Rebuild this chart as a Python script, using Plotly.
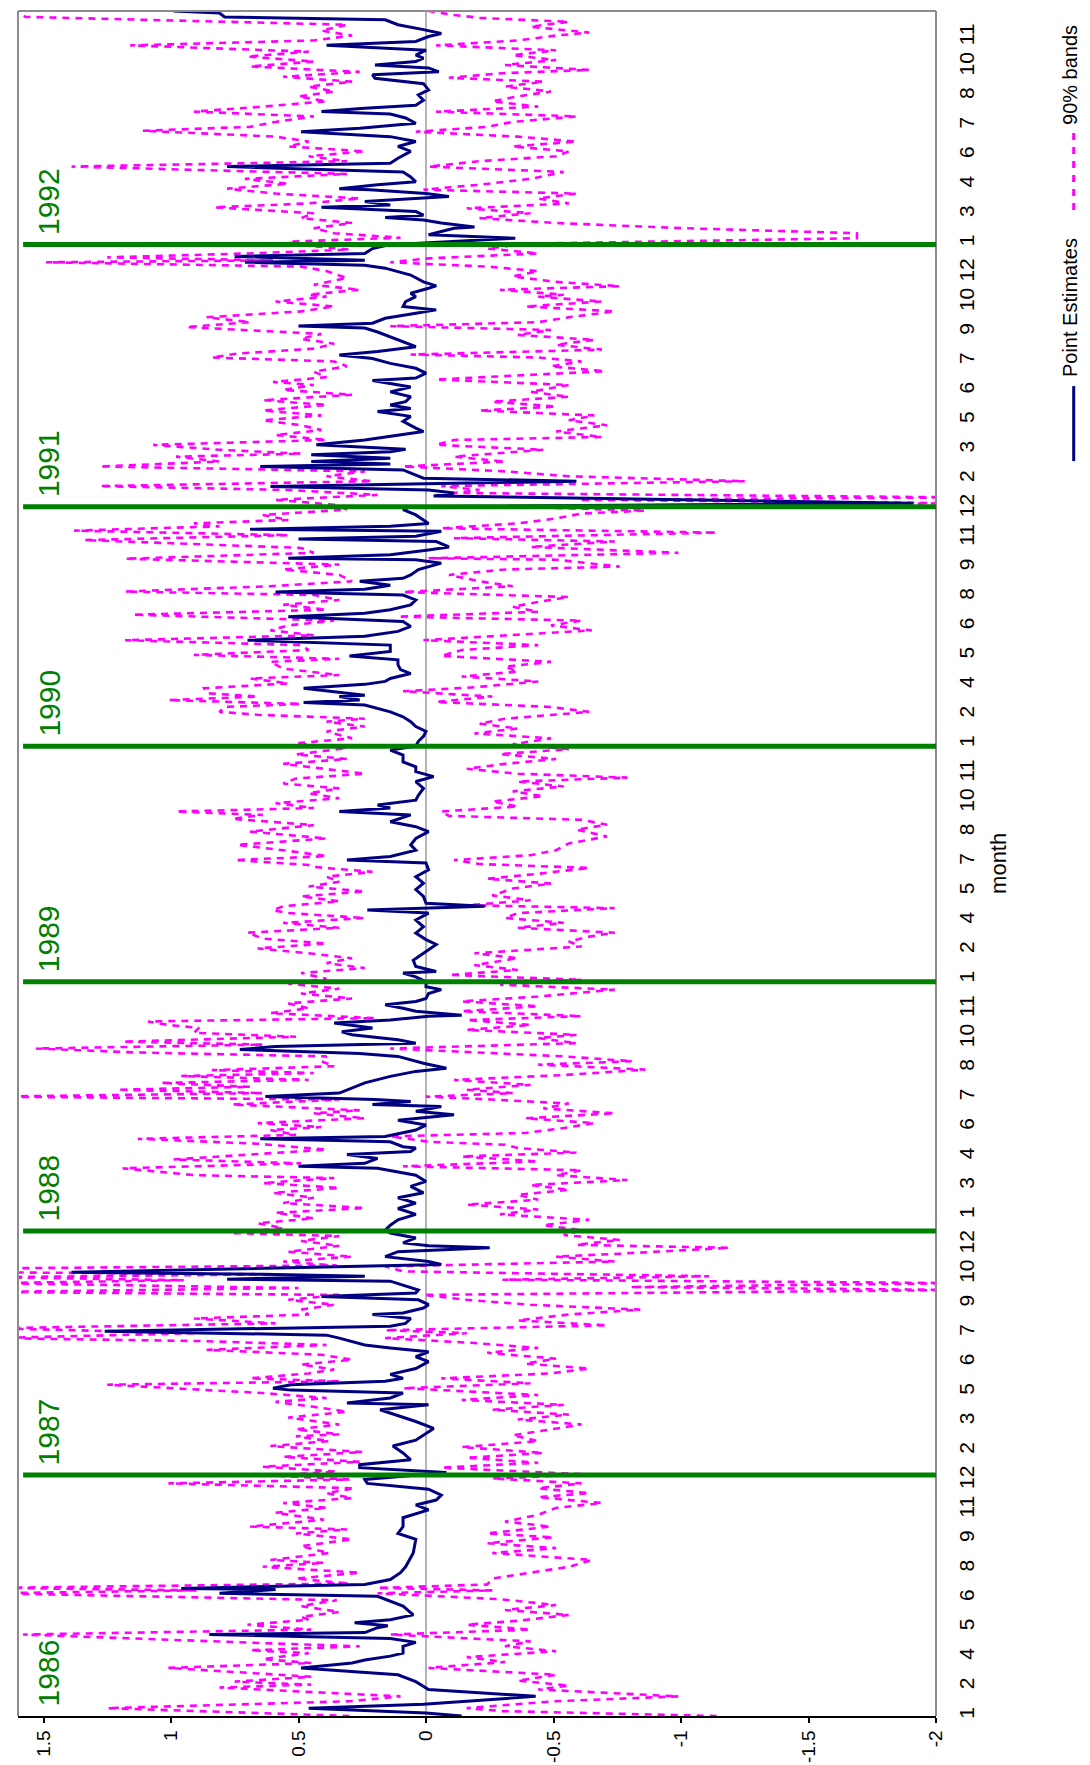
import plotly.graph_objects as go

# ---------------- data (observation index, value) ----------------
point_estimates = [
(0,-0.14),(3,0.0),(8,0.46),(12,0.01),(20,-0.43),(27,-0.01),(35,0.04),(42,0.11),(49,0.49),(54,0.29),(57,0.24),(61,0.14),(64,0.09),(71,0.09),(75,0.04),(79,0.14),(83,0.85),(85,0.24),(90,0.19),(92,0.15),(95,0.28),(98,0.14),(103,0.05),(112,0.09),(122,0.19),(125,0.81),(129,0.59),(130,0.96),(134,0.24),(139,0.14),(146,0.10),(152,0.08),(166,0.05),(180,0.04),(186,0.11),(193,0.09),(202,0.09),(210,-0.01),(215,0.04),(220,-0.04),(225,-0.06),(231,-0.01),(237,0.23),(241,0.24),(248,-0.08),(253,0.26),(256,0.26),(261,0.06),(268,0.09),(275,0.13),(281,0.04),(288,0.0),
(293,-0.03),(300,0.04),(307,0.12),(312,0.18),(317,-0.01),(319,0.31),(324,0.14),(329,0.09),(332,0.53),(334,0.6),(337.5,0.53),(341,0.16),(344,0.09),(348,0.14),(354,0.04),(361,-0.01),(366,0.04),(371,-0.01),(375,0.14),(378,0.24),(385,0.34),(388,0.39),(392,1.26),(395,0.5),(397,0.14),(400,0.08),(405,0.06),(409,0.21),(410.5,0.09),(415.6,0.01),(419,-0.01),(424,0.03),(427.5,0.41),(431,0.04),(434,0.03),(443,0.14),(445,0.78),(448,0.24),(450,0.64),(452,1.39),(456,0.64),(458,0.19),(460,-0.06),(463,-0.01),(468,0.16),(473,0.11),(477,-0.25),(479,-0.01),(482,0.09),(487,0.04),(492,0.14),(495,0.16),(500,0.14),(505.5,0.11),(511,0.04),(517,0.11),(522.5,0.04),(528,0.11),(533,0.01),(539.5,0.06),(544.6,0.0),(551,0.04),(558,0.19),(560,0.5),(563,0.24),(568,0.19),(572,0.31),(575,0.06),(578.6,0.04),
(580,0.09),(585,0.14),(588,0.65),(590.5,0.16),(597,0.04),(602,0.0),(607,0.11),(612.5,-0.11),(616,0.04),(621,-0.06),(623,0.21),(626,0.06),(628,0.2),(631,0.63),(634.6,0.34),(640,0.29),(645,0.24),(651.6,0.14),(656.7,0.04),(660,-0.08),(665,0.01),(672,0.11),(675,0.26),(679,0.73),(682,0.59),(685.5,0.04),(689,0.11),(694,0.29),(697,0.33),(701,0.21),(706,0.36),(709,0.14),(713,-0.01),(714,-0.14),(718,0.04),(721,0.09),(724.5,0.16),(728,0.04),(731,0.0),(736,-0.01),(740,-0.06),(743,0.0),(748,0.0),(753,0.04),(757,0.09),(758.5,-0.04),(763.6,0.04),(770,0.05),(777,0.01),(786,-0.04),(791,0.0),(797.6,0.04),(804,0.01),(811,0.04),(818,-0.01),(821,0.23),(825,-0.23),(828,0.0),(835,0.01),(842,0.04),(848.5,0.01),(855,0.04),(862,-0.01),(869,0.0),
(872,0.31),(875.7,0.14),(882,0.04),(887.5,0.06),(894,0.04),(901,-0.01),(906,0.04),(911,0.14),(918,0.06),(921.5,0.34),(925,0.14),(928,0.19),(933,0.04),(938,0.03),(945,0.01),(952,0.04),(957,-0.03),(962,0.04),(967,0.04),(972,0.09),(979,0.09),(984,0.14),(988,0.04),(993,0.03),(998,0.01),(1003,0.0),(1008,0.04),(1013,0.06),(1018,0.09),(1023,0.14),(1030,0.24),(1032.5,0.48),(1035,0.26),(1038.6,0.34),(1040,0.24),(1044,0.38),(1047,0.48),(1051,0.24),(1054,0.16),(1057,0.14),(1062,0.06),(1066,0.1),(1071,0.11),(1076,0.11),(1080,0.3),(1084.5,0.14),(1091,0.14),(1096,0.7),(1100,0.24),(1105,0.11),(1110,0.06),(1115,0.09),(1120,0.54),(1123.5,0.24),(1127,0.14),(1132,0.06),(1137,0.04),(1142,0.09),(1145,0.59),(1148,0.24),(1152,0.14),(1156,0.26),(1159,0.09),
(1162.5,0.06),(1168,0.03),(1174.5,-0.06),(1178,0.04),(1179.5,0.54),(1183,0.14),(1188,-0.01),(1191,-0.09),(1196.5,-0.04),(1199,0.5),(1202,0.04),(1207,-0.06),(1209,0.69),(1212,0.14),(1215,-0.01),(1218.5,0.01),(1223.6,0.04),(1229,0.09),(1232,0.06),(1235.5,-1.91),(1243,-0.03),(1246,-0.11),(1249,-0.01),(1252.5,0.61),(1255,0.01),(1258,-0.59),(1261,0.01),(1264,0.04),(1269.5,0.09),(1273,0.65),(1275.6,0.14),(1278,0.45),(1281.4,0.14),(1285,0.45),(1288,0.14),(1290.6,0.08),(1295,0.43),(1300,0.24),(1305,0.11),(1308.6,0.01),(1312,0.04),(1315,0.06),(1319,0.09),(1324,0.06),(1329,0.19),(1332,0.06),(1335.7,0.14),(1339,0.08),(1344,0.06),(1349,0.14),(1354,0.06),(1360.5,0.21),(1363,0.04),(1368,0.0),(1373,0.04),(1378,0.14),(1383,0.21),(1386.6,0.34),(1390,0.19),(1395,0.04),(1400,0.09),(1405,0.14),(1410,0.19),(1414,0.24),(1416,0.5),(1419,0.21),(1424,0.16),(1429,0.04),(1432.5,-0.04),(1436,0.09),(1441,0.08),(1446,0.04),(1449.5,0.06),
(1454.6,-0.01),(1457,-0.04),(1461,0.01),(1468,0.06),(1475,0.16),(1478,0.24),(1481,0.71),(1483,0.24),(1487,0.75),(1490,0.24),(1495,0.21),(1499,0.14),(1505.5,-0.35),(1509,-0.01),(1515.7,-0.11),(1517,-0.19),(1521,-0.06),(1524,0.01),(1526.5,0.16),(1529,0.01),(1532.7,0.04),(1537,0.41),(1539.4,0.14),(1543,0.24),(1548,-0.09),(1551,0.0),(1555,0.22),(1556,0.34),(1560,0.19),(1563,0.04),(1568,0.06),(1573,0.09),(1578.5,0.78),(1582,0.14),(1587,0.11),(1594,0.06),(1599,0.11),(1604,0.04),(1609,0.14),(1614,0.49),(1617.5,0.26),(1622.6,0.04),(1628,0.08),(1632,0.14),(1634.5,0.41),(1638,0.24),(1641,0.04),(1646,0.01),(1651.5,0.03),(1656.6,-0.01),(1663,0.01),(1668.5,0.2),(1672,0.21),(1675,-0.05),(1679,-0.01),(1682,0.2),(1685.5,0.04),(1689,0.01),(1692,0.04),(1697,0.0),(1702,0.39),(1706,0.04),(1711,-0.01),(1714,-0.06),(1718,0.01),(1723,0.11),(1728,0.16),(1731,0.79),(1735,0.81),(1737,0.99),
]

upper_band = [
(0,0.3),(8,1.25),(15,0.3),(20,0.1),(29,0.81),(32,0.45),(35,0.75),(40,0.45),(49,1.01),(54,0.45),(58,0.64),(64,0.46),(67,0.69),(71,0.26),(74,0.61),(83,1.58),(88,0.45),(93,0.7),(98,0.46),(101,0.49),(106,0.34),(112,0.49),(118,0.35),(125,1.7),(128,0.9),(130.5,1.7),(135,0.3),(140,0.51),(146,0.26),(152,0.64),(156,0.4),(159,0.61),(166,0.38),(173,0.49),(180,0.29),(186,0.51),(190,0.31),(193,0.69),(200,0.4),(207,0.59),(212,0.39),(217,0.56),(222,0.29),(227,0.39),(232,0.28),(237,1.01),(241,0.3),(245,0.6),(249,0.35),(254,0.64),(259,0.26),(264,0.56),(269,0.25),(275,0.61),(280,0.38),(285,0.51),
(287,0.34),(292,0.51),(297,0.34),(304,0.54),(310,0.31),(315,0.44),(320,0.59),(324,0.39),(329,0.64),(337.5,1.25),(341,0.34),(344,0.69),(349,0.46),(353,0.36),(358,0.49),(363,0.29),(368,0.41),(373,0.86),(378,0.39),(382,0.89),(385,1.7),(390,0.9),(395,1.7),(400,0.59),(405,0.91),(409,0.46),(414,0.49),(419,0.36),(424,0.54),(429,0.34),(432,1.7),(436,0.5),(441,1.7),(444,0.95),(447,1.7),(450,0.6),(452,1.7),(456,1.7),(459,0.35),(463,0.56),(468,0.29),(473,0.54),(479,0.34),(484,0.49),(489,0.34),(492,0.76),(497,0.56),(502,0.66),(507,0.44),(512.6,0.59),(517.5,0.24),(522.6,0.56),(528,0.44),(533,0.6),(538,0.34),(543,0.64),(548,0.36),(551,0.91),(558,1.19),(563,0.49),(567,0.99),(572,0.71),(577,0.39),
(583,0.66),(588,1.13),(592,0.51),(597,0.61),(600,0.41),(604,0.66),(609,0.24),(614,0.44),(617,0.26),(623,0.76),(628,0.34),(631,1.7),(634.6,0.64),(638,1.21),(641,0.69),(645,1.04),(648,0.46),(652,0.96),(655,0.44),(658,0.84),(662,0.36),(667,0.41),(672,0.39),(676,1.14),(680,1.53),(684,0.64),(687,1.19),(692,0.51),(696,0.91),(701,0.89),(704,1.01),(707.6,1.09),(711,0.2),(716,0.61),(721,0.46),(726,0.54),(731,0.29),(736,0.49),(741,0.34),(746,0.54),(751,0.39),(757,0.49),(762,0.24),(767,0.39),(772,0.29),(777,0.46),(782,0.66),(787,0.39),(792,0.64),(798,0.7),(803,0.34),(808,0.56),(813,0.24),(818,0.54),(821,0.6),(825,0.56),(830,0.34),(835,0.49),(840,0.24),(845,0.46),(850,0.34),(855,0.39),(860,0.21),(865,0.44),
(867,0.46),(872,0.75),(876,0.39),(882,0.56),(887.5,0.74),(894,0.39),(901,0.69),(907.6,0.44),(914,0.76),(918,0.64),(921.5,0.98),(925,0.44),(930,0.59),(935,0.34),(940,0.46),(945,0.34),(950,0.56),(955,0.51),(960,0.24),(965,0.41),(970,0.56),(975,0.31),(979.6,0.51),(986,0.31),(991,0.51),(996,0.29),(1003,0.39),(1008,0.24),(1013,0.39),(1016,0.24),(1020,0.66),(1023,0.81),(1028,0.79),(1031,0.49),(1035,1.01),(1038.6,0.66),(1042,0.86),(1047,0.87),(1052,0.54),(1057,0.69),(1060.5,0.34),(1067,0.56),(1074,0.61),(1077,0.34),(1081,0.91),(1086,0.46),(1091,0.49),(1096,1.18),(1101,0.44),(1106,0.61),(1111,0.54),(1116,0.36),(1122,1.15),(1127,0.39),(1132,0.56),(1137,0.34),(1142,0.44),(1145.6,1.18),(1151,0.61),(1156,0.29),
(1162.5,0.34),(1168,0.56),(1173,0.34),(1179,1.18),(1185,0.44),(1190,0.49),(1198,1.34),(1203,0.54),(1207.6,1.38),(1212,0.81),(1215,0.91),(1218.5,0.54),(1223.6,0.64),(1229,0.31),(1234,0.36),(1239,0.59),(1244,0.19),(1249,0.54),(1253,1.28),(1258,0.21),(1263,0.39),(1268,0.24),(1273,1.28),(1278,0.81),(1283,0.98),(1286,0.49),(1290,0.81),(1295,1.07),(1300,0.39),(1305,0.59),(1310,0.41),(1315,0.49),(1320,0.64),(1325,0.41),(1330,0.64),(1335.7,0.39),(1340.5,0.64),(1346,0.29),(1351,0.56),(1356,0.44),(1359,0.6),(1364,0.39),(1369.6,0.44),(1375,0.31),(1380,0.36),(1384,0.84),(1388,0.74),(1393,0.44),(1398,0.36),(1403,0.49),(1408,0.41),(1415,0.94),(1420,0.69),(1425,0.86),(1431,0.49),(1436,0.36),(1441,0.59),(1446,0.39),
(1448,0.46),(1453,0.26),(1458,0.44),(1465,0.31),(1472,0.39),(1476.6,0.49),(1481,1.49),(1483,0.6),(1486,1.25),(1490,0.7),(1494,0.3),(1499,0.51),(1502,0.54),(1506,0.1),(1510.6,0.36),(1515.7,0.44),(1521,0.29),(1526,0.49),(1531,0.44),(1537,0.83),(1541,0.46),(1546,0.26),(1551,0.59),(1556,0.78),(1561,0.54),(1566,0.71),(1571,0.31),(1578.5,1.39),(1584,0.31),(1589,0.46),(1594,0.24),(1599,0.54),(1604,0.46),(1609,0.59),(1615,1.11),(1619,0.69),(1624,0.59),(1629.6,0.44),(1634.5,0.91),(1639.6,0.64),(1645,0.39),(1650,0.5),(1655,0.36),(1660,0.46),(1665,0.29),(1670,0.56),(1675,0.26),(1680.5,0.69),(1685.5,0.44),(1690.6,0.7),(1695.6,0.46),(1702,1.16),(1707,0.44),(1712,0.29),(1717,0.41),(1723,0.31),(1731,1.57),(1737,1.62),
]

lower_band = [
(0,-1.14),(5,-0.3),(8,-0.16),(15,-0.5),(20,-0.99),(27,-0.44),(31,-0.56),(36,-0.36),(42,-0.51),(49,-0.01),(55,-0.31),(60,-0.16),(66,-0.51),(71,-0.31),(76,-0.41),(80,-0.11),(83,0.14),(88,-0.41),(93,-0.16),(97,-0.36),(103,-0.56),(108,-0.31),(113,-0.51),(119,-0.29),(125,0.19),(128,-0.26),(130.5,0.19),(134,-0.24),(140,-0.26),(146,-0.41),(152,-0.56),(159,-0.65),(166,-0.26),(171,-0.51),(176,-0.24),(182,-0.5),(186,-0.24),(193,-0.49),(198,-0.31),(205,-0.44),(212,-0.51),(217,-0.69),(223,-0.44),(227,-0.64),(232,-0.44),(237,-0.61),(242,-0.26),(246,-0.64),(253,-0.06),(258,-0.44),(263,-0.16),(268,-0.46),(274,-0.14),(280,-0.44),(286,-0.34),
(292,-0.49),(297,-0.61),(302,-0.36),(307,-0.56),(312,-0.26),(317,-0.54),(322,-0.14),(327,-0.44),(334,0.09),(339,-0.41),(344,-0.06),(349,-0.49),(354,-0.64),(359,-0.39),(364,-0.51),(370,-0.24),(375,-0.44),(380,-0.19),(385,0.16),(390,-0.16),(393,0.16),(398,-0.71),(403,-0.36),(409,-0.56),(414,-0.84),(419,-0.41),(424,-0.16),(429,0.01),(434,-2.1),(437,-0.8),(441,-2.1),(444.5,-0.3),(448,-1.11),(453,0.09),(458,0.16),(463,-0.74),(468,-0.51),(471,-0.76),(477,-1.19),(480,-0.59),(485,-0.76),(490,-0.54),(495,-0.61),(500,-0.46),(505.5,-0.64),(511,-0.29),(516,-0.44),(521,-0.16),(526,-0.44),(531,-0.36),(536,-0.56),(541,-0.41),(546,-0.79),(551,-0.51),(556,-0.61),(560,0.09),(565,-0.44),(570,-0.14),(574,-0.59),(578.6,-0.36),
(582,-0.31),(585,-0.01),(590.5,0.14),(594,-0.39),(599,-0.54),(604,-0.66),(609,-0.39),(614,-0.74),(619,-0.46),(624,-0.56),(628,-0.26),(631,0.0),(634.6,-0.34),(638,-0.16),(643,-0.41),(648,-0.11),(653,-0.54),(658.5,-0.86),(663.6,-0.44),(667,-0.81),(672,-0.54),(677,-0.11),(680,0.14),(685.5,-0.59),(690.6,-0.44),(694,-0.59),(699,-0.16),(704,-0.41),(709,-0.16),(713,-0.61),(718,-0.14),(723,-0.44),(728,-0.14),(733,-0.44),(740,-0.74),(745,-0.29),(750,-0.61),(755,-0.09),(760,-0.36),(765,-0.19),(772,-0.36),(777,-0.19),(784,-0.61),(789,-0.56),(794,-0.64),(798,-0.74),(803,-0.36),(808,-0.54),(813,-0.31),(818,-0.36),(823,-0.74),(826,-0.16),(831,-0.41),(836,-0.26),(843,-0.34),(848,-0.49),(853,-0.24),(858,-0.44),(864,-0.64),
(868,-0.21),(872,-0.11),(877,-0.41),(882,-0.51),(889,-0.56),(896,-0.71),(903,-0.59),(908,-0.71),(913,-0.61),(917,-0.09),(921.5,-0.06),(926.6,-0.36),(931.6,-0.26),(937,-0.46),(942,-0.34),(947,-0.54),(952,-0.36),(956,-0.79),(960,-0.36),(965,-0.16),(970,-0.31),(975,-0.51),(980,-0.29),(985,-0.56),(990,-0.34),(996,-0.49),(1001,-0.19),(1006,-0.36),(1011,-0.21),(1016,-0.31),(1023,-0.64),(1028,-0.49),(1033,-0.04),(1038.6,-0.26),(1044,0.09),(1048,-0.19),(1054,-0.44),(1059,-0.14),(1064,-0.36),(1069,-0.31),(1074,-0.49),(1080,-0.06),(1086,-0.14),(1091,-0.44),(1096,0.01),(1101,-0.34),(1106,-0.65),(1111,-0.49),(1116,-0.61),(1120,0.11),(1125,-0.44),(1130,-0.34),(1135,-0.44),(1140,-0.56),(1145,0.09),(1151,-0.34),(1156,-0.21),
(1162.5,-0.09),(1168,-0.31),(1171,-0.76),(1178,-0.51),(1179.5,-0.01),(1185,-0.99),(1191,-0.41),(1196.5,-0.74),(1200,-0.11),(1205.6,-1.14),(1210,-0.06),(1215,-0.36),(1220,-0.51),(1225,-0.61),(1228,-0.86),(1232,-0.34),(1235.5,-2.1),(1239,-0.6),(1241.5,-2.1),(1246,-0.11),(1249,-0.21),(1253,-0.06),(1258,-1.25),(1263,-0.56),(1268,-0.31),(1273,0.09),(1278,-0.31),(1283,-0.11),(1290,-0.46),(1295,-0.04),(1300,-0.11),(1303,-0.69),(1308.6,-0.51),(1315,-0.71),(1320,-0.56),(1325,-0.66),(1330,-0.21),(1334,-0.51),(1339,-0.26),(1344,-0.56),(1349,-0.41),(1356,-0.56),(1361.6,-0.04),(1366,-0.41),(1370,-0.7),(1375,-0.49),(1380,-0.61),(1384,-0.44),(1387,0.06),(1392,-0.69),(1397,-0.51),(1402,-0.66),(1407,-0.36),(1412,-0.49),(1416,0.14),(1420,-0.44),(1425,-0.56),(1431,-0.74),(1436,-0.39),(1441,-0.69),(1446,-0.44),
(1448,-0.54),(1453,-0.29),(1456.6,-0.76),(1461,-0.51),(1466.6,-0.34),(1472,-0.44),(1476.6,-0.24),(1481,0.14),(1485,-0.01),(1490,-0.44),(1495,-0.24),(1500,-0.4),(1505.5,-1.69),(1510.6,-1.69),(1515.7,-1.01),(1521,-0.51),(1526,-0.21),(1531,-0.41),(1536,-0.16),(1541,-0.56),(1546,-0.44),(1551,-0.59),(1555,0.01),(1560,-0.21),(1566,-0.41),(1573,-0.54),(1578.5,-0.01),(1584,-0.21),(1589,-0.51),(1594,-0.56),(1599,-0.34),(1604,-0.59),(1609,-0.36),(1614,0.04),(1619,-0.24),(1624,-0.34),(1629.6,-0.59),(1634.5,-0.04),(1639.6,-0.44),(1645,-0.26),(1650,-0.36),(1655,-0.49),(1660,-0.31),(1665,-0.46),(1669,-0.09),(1673.6,-0.3),(1677,-0.64),(1682,-0.31),(1687,-0.51),(1692,-0.34),(1697,-0.51),(1702,-0.04),(1707,-0.36),(1712,-0.51),(1715,-0.64),(1721,-0.41),(1726,-0.56),(1730,-0.21),(1733,-0.11),(1737,-0.01),
]

month_labels = [1,2,4,5,6,8,9,11,12, 2,3,5,6,7,9,10,12, 1,3,4,6,7,8,10,11,
                1,2,4,5,7,8,10,11, 1,2,4,5,6,8,9,11,12, 2,3,5,6,7,9,10,12,
                1,3,4,6,7,8,10,11]
label_every = 30
n_obs = 1737
years = ["1986", "1987", "1988", "1989", "1990", "1991", "1992"]
year_start = [0, 245.5, 494, 748, 988, 1232, 1499]
value_ticks = [-2, -1.5, -1, -0.5, 0, 0.5, 1, 1.5]

# ---------------- figure ----------------
FONT = "Liberation Sans, Arial, sans-serif"
NAVY = "#000080"
MAG = "#FF00FF"
GREEN = "#008000"
GRAY = "#8c8c8c"

def split(pairs):
    return [p[0] for p in pairs], [p[1] for p in pairs]

fig = go.Figure()
for name, series in (("upper", upper_band), ("lower", lower_band)):
    t, v = split(series)
    fig.add_trace(go.Scatter(x=v, y=t, mode="lines", name=name,
                             line=dict(color=MAG, width=2.6, dash="7px,6px")))
t, v = split(point_estimates)
fig.add_trace(go.Scatter(x=v, y=t, mode="lines", name="Point Estimates",
                         line=dict(color=NAVY, width=3)))

shapes = []
for (x0, y0, x1, y1) in ((0, 0, 0, 1), (0, 1, 1, 1), (1, 0, 1, 1)):
    shapes.append(dict(type="line", xref="paper", yref="paper", x0=x0, y0=y0, x1=x1, y1=y1,
                       line=dict(color=GRAY, width=2), layer="above"))
shapes.append(dict(type="line", xref="x", yref="paper", x0=0, x1=0, y0=0, y1=1,
                   line=dict(color="#808080", width=1.2), layer="below"))
for ys in year_start[1:]:
    shapes.append(dict(type="line", xref="x", yref="y", x0=1.58, x1=-2.0, y0=ys, y1=ys,
                       line=dict(color=GREEN, width=5), layer="above"))
# legend samples
LEG_X = 1.150
shapes.append(dict(type="line", xref="paper", yref="paper", x0=LEG_X, x1=LEG_X, y0=0.736, y1=0.780,
                   line=dict(color=NAVY, width=3)))
shapes.append(dict(type="line", xref="paper", yref="paper", x0=LEG_X, x1=LEG_X, y0=0.8833, y1=0.9285,
                   line=dict(color=MAG, width=3, dash="7px,7px")))

annotations = []
for yr, ys in zip(years, year_start):
    annotations.append(dict(x=1.48, y=ys + 44, xref="x", yref="y", text=yr, showarrow=False,
                            textangle=-90, xanchor="center", yanchor="middle",
                            font=dict(family=FONT, size=30, color=GREEN)))
annotations.append(dict(x=1.068, y=0.5, xref="paper", yref="paper", text="month", showarrow=False,
                        textangle=-90, xanchor="center", yanchor="middle",
                        font=dict(family=FONT, size=22, color="black")))
annotations.append(dict(x=LEG_X - 0.004, y=0.8258, xref="paper", yref="paper", text="Point Estimates",
                        showarrow=False, textangle=-90, xanchor="center", yanchor="middle",
                        font=dict(family=FONT, size=20, color="black")))
annotations.append(dict(x=LEG_X - 0.004, y=0.9625, xref="paper", yref="paper", text="90% bands",
                        showarrow=False, textangle=-90, xanchor="center", yanchor="middle",
                        font=dict(family=FONT, size=20, color="black")))

fig.update_layout(
    width=1090, height=1765,
    margin=dict(l=10, r=162, t=3, b=57),
    paper_bgcolor="white", plot_bgcolor="white",
    showlegend=False,
    font=dict(family=FONT, size=20, color="black"),
    shapes=shapes, annotations=annotations,
    xaxis=dict(range=[1.6, -2.0], tickvals=value_ticks,
               ticktext=[f"{v:g}" for v in value_ticks],
               tickangle=-90, ticks="outside", ticklen=5, tickwidth=1.5, tickcolor="black",
               showline=True, linecolor="black", linewidth=1.5,
               showgrid=False, zeroline=False,
               tickfont=dict(family=FONT, size=19, color="black")),
    yaxis=dict(range=[0, n_obs], side="right",
               tickvals=[i * label_every for i in range(len(month_labels))],
               ticktext=[str(m) for m in month_labels],
               tickangle=-90, ticks="", ticklabelstandoff=16,
               showline=False, showgrid=False, zeroline=False,
               tickfont=dict(family=FONT, size=21, color="black")),
)

fig.write_html("out.html")
